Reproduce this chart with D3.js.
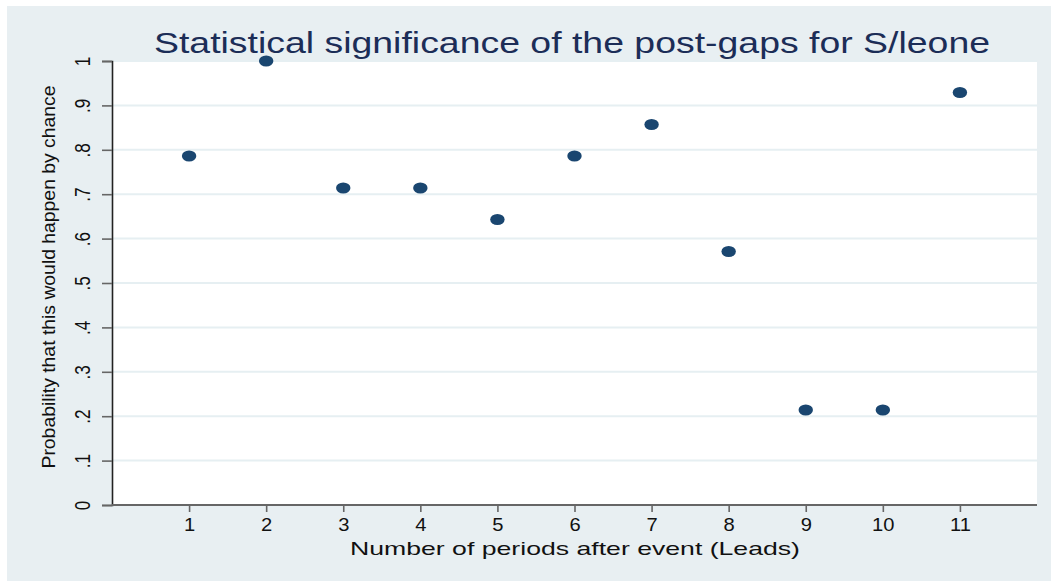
<!DOCTYPE html>
<html>
<head>
<meta charset="utf-8">
<script src="https://cdn.jsdelivr.net/npm/d3@7"></script>
<style>
  html, body { margin: 0; padding: 0; background: #ffffff; }
  svg { display: block; }
  text { font-family: "Liberation Sans", Arial, sans-serif; }
</style>
</head>
<body>
<svg id="chart" width="1051" height="581"></svg>
<script>
// Lead periods after the event
const leads = [1, 2, 3, 4, 5, 6, 7, 8, 9, 10, 11];
// Probability that each post-gap would happen by chance
const probability = [0.786, 1.0, 0.714, 0.714, 0.643, 0.786, 0.857, 0.571, 0.214, 0.214, 0.929];
// Axis tick values and labels
const yTicks = [0, 0.1, 0.2, 0.3, 0.4, 0.5, 0.6, 0.7, 0.8, 0.9, 1];
const yTickLabels = ["0", ".1", ".2", ".3", ".4", ".5", ".6", ".7", ".8", ".9", "1"];
const xTicks = [1, 2, 3, 4, 5, 6, 7, 8, 9, 10, 11];

const titleText = "Statistical significance of the post-gaps for S/leone";
const xTitle = "Number of periods after event (Leads)";
const yTitle = "Probability that this would happen by chance";

const svg = d3.select("#chart");
const W = 1051, H = 581;
const plot = { left: 112, right: 1037, top: 61, bottom: 505 };

// Graph region background
svg.append("rect")
  .attr("x", 7).attr("y", 6)
  .attr("width", W - 7).attr("height", H - 6)
  .attr("fill", "#e8eff2");

// Plot region
svg.append("rect")
  .attr("x", plot.left).attr("y", plot.top)
  .attr("width", plot.right - plot.left).attr("height", plot.bottom - plot.top)
  .attr("fill", "#ffffff");

const x = d3.scaleLinear().domain([0, 12]).range([plot.left, plot.right]);
const y = d3.scaleLinear().domain([0, 1]).range([plot.bottom, plot.top]);

// Horizontal grid lines
svg.append("g")
  .selectAll("line")
  .data(yTicks.filter(d => d > 0))
  .join("line")
  .attr("x1", plot.left).attr("x2", plot.right)
  .attr("y1", d => y(d)).attr("y2", d => y(d))
  .attr("stroke", "#e6eff2")
  .attr("stroke-width", 2);

// Y axis
const yAxis = svg.append("g")
  .attr("transform", `translate(${plot.left},0)`)
  .call(d3.axisLeft(y).tickValues(yTicks)
    .tickFormat((d, i) => yTickLabels[i])
    .tickSize(10).tickPadding(0));
yAxis.select(".domain").attr("stroke", "#222").attr("stroke-width", 1.6);
yAxis.selectAll(".tick line").attr("stroke", "#666").attr("stroke-width", 1.6);
yAxis.selectAll(".tick text")
  .attr("x", null).attr("dy", null)
  .attr("text-anchor", "middle")
  .attr("transform", "translate(-30,0) rotate(-90) scale(0.9,1.15) translate(0,7)")
  .attr("font-size", 19)
  .attr("fill", "#111");

// X axis
const xAxis = svg.append("g")
  .attr("transform", `translate(0,${plot.bottom})`)
  .call(d3.axisBottom(x).tickValues(xTicks).tickSize(7).tickPadding(6));
xAxis.select(".domain").attr("stroke", "#666").attr("stroke-width", 2)
  .attr("d", `M${plot.left},0H${plot.right}`);
xAxis.selectAll(".tick line").attr("stroke", "#666").attr("stroke-width", 1.6);
xAxis.selectAll(".tick text")
  .attr("font-size", 18)
  .attr("fill", "#111")
  .attr("transform", "scale(1.12,1)");

// Markers
svg.append("g")
  .selectAll("ellipse")
  .data(leads.map((d, i) => ({ lead: d, p: probability[i] })))
  .join("ellipse")
  .attr("cx", d => x(d.lead))
  .attr("cy", d => y(d.p))
  .attr("rx", 7.2)
  .attr("ry", 5.6)
  .attr("fill", "#1a4670");

// Title
svg.append("text")
  .attr("x", 572).attr("y", 53)
  .attr("text-anchor", "middle")
  .attr("font-size", 29)
  .attr("fill", "#1c2d57")
  .attr("textLength", 836)
  .attr("lengthAdjust", "spacingAndGlyphs")
  .text(titleText);

// X axis title
svg.append("text")
  .attr("x", 575).attr("y", 555)
  .attr("text-anchor", "middle")
  .attr("font-size", 19)
  .attr("fill", "#111")
  .attr("textLength", 450)
  .attr("lengthAdjust", "spacingAndGlyphs")
  .text(xTitle);

// Y axis title
svg.append("text")
  .attr("transform", "translate(55,277) rotate(-90)")
  .attr("text-anchor", "middle")
  .attr("font-size", 19)
  .attr("fill", "#111")
  .attr("textLength", 383)
  .attr("lengthAdjust", "spacingAndGlyphs")
  .text(yTitle);
</script>
</body>
</html>
